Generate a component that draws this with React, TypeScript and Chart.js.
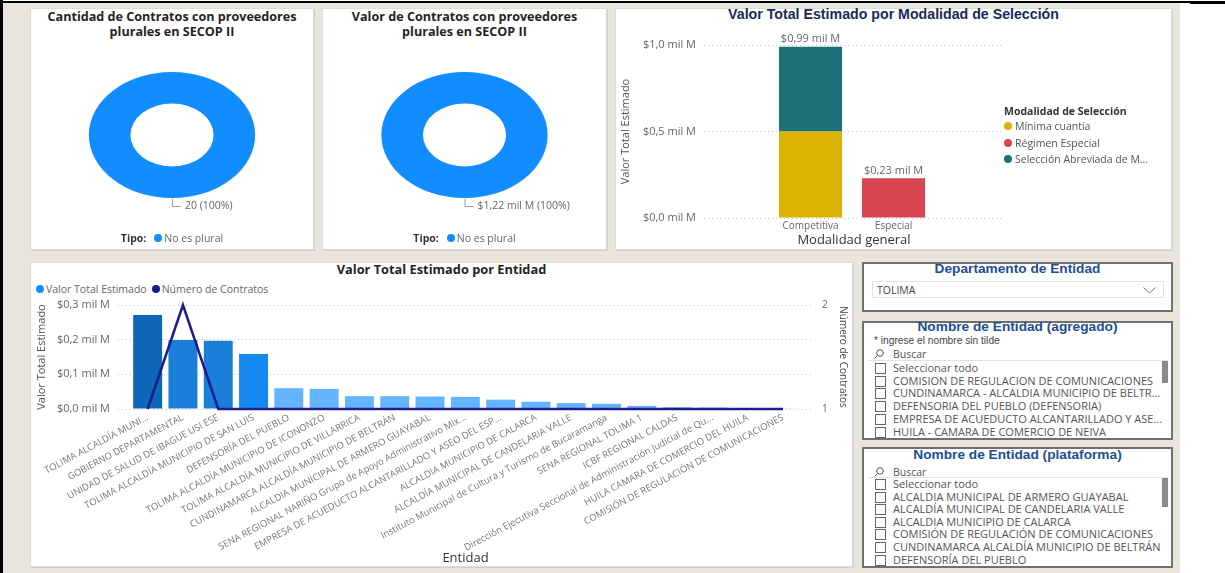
import React, { useEffect, useRef } from "react";
import { Chart, registerables } from "chart.js";

Chart.register(...registerables);

const FONT = "'Open Sans', 'Noto Sans', 'DejaVu Sans', sans-serif";
const ARIAL = "'Liberation Sans', Arial, sans-serif";
Chart.defaults.font.family = FONT;

// ---------------- DATA ----------------
const tipoLabels = ["No es plural"];
const cantidadContratos = [20];
const valorContratos = [1.22]; // mil M

const modalidadGeneral = ["Competitiva", "Especial"];
const modalidadSeleccion = ["Mínima cuantía", "Régimen Especial", "Selección Abreviada de Menor Cuantía"];
const minimaCuantia = [0.5, null];
const regimenEspecial = [null, 0.23];
const seleccionAbreviada = [0.49, null];
const modalidadTickStep = 0.5;
const modalidadMax = 1.0;

const entidades = [
  "TOLIMA ALCALDÍA MUNI...",
  "GOBIERNO DEPARTAMENTAL",
  "UNIDAD DE SALUD DE IBAGUE USI ESE",
  "TOLIMA ALCALDÍA MUNICIPIO DE SAN LUIS",
  "DEFENSORÍA DEL PUEBLO",
  "TOLIMA ALCALDÍA MUNICIPIO DE ICONONZO",
  "TOLIMA ALCALDÍA MUNICIPIO DE VILLARRICA",
  "CUNDINAMARCA ALCALDÍA MUNICIPIO DE BELTRÁN",
  "ALCALDIA MUNICIPAL DE ARMERO GUAYABAL",
  "SENA REGIONAL NARIÑO Grupo de Apoyo Administrativo Mix...",
  "EMPRESA DE ACUEDUCTO ALCANTARILLADO Y ASEO DEL ESP...",
  "ALCALDIA MUNICIPIO DE CALARCA",
  "ALCALDÍA MUNICIPAL DE CANDELARIA VALLE",
  "Instituto Municipal de Cultura y Turismo de Bucaramanga",
  "SENA REGIONAL TOLIMA 1",
  "ICBF REGIONAL CALDAS",
  "Dirección Ejecutiva Seccional de Administración Judicial de Qu...",
  "HUILA CAMARA DE COMERCIO DEL HUILA",
  "COMISIÓN DE REGULACIÓN DE COMUNICACIONES",
];
const valorEntidad = [0.271, 0.199, 0.197, 0.159, 0.06, 0.058, 0.037, 0.037, 0.036, 0.035, 0.027, 0.021, 0.017, 0.015, 0.009, 0.005, 0.004, 0.002, 0.001];
const numeroContratos = [1, 2, 1, 1, 1, 1, 1, 1, 1, 1, 1, 1, 1, 1, 1, 1, 1, 1, 1];
const entidadSeries = ["Valor Total Estimado", "Número de Contratos"];
const valorAxisMax = 0.3;
const valorAxisStep = 0.1;
const contratosAxis = [1, 2];

const departamentoSeleccionado = "TOLIMA";
const entidadesAgregado = [
  "Seleccionar todo",
  "COMISION DE REGULACION DE COMUNICACIONES",
  "CUNDINAMARCA - ALCALDIA MUNICIPIO DE BELTR...",
  "DEFENSORIA DEL PUEBLO (DEFENSORIA)",
  "EMPRESA DE ACUEDUCTO ALCANTARILLADO Y ASE...",
  "HUILA - CAMARA DE COMERCIO DE NEIVA",
];
const entidadesPlataforma = [
  "Seleccionar todo",
  "ALCALDIA MUNICIPAL DE ARMERO GUAYABAL",
  "ALCALDÍA MUNICIPAL DE CANDELARIA VALLE",
  "ALCALDIA MUNICIPIO DE CALARCA",
  "COMISIÓN DE REGULACIÓN DE COMUNICACIONES",
  "CUNDINAMARCA ALCALDÍA MUNICIPIO DE BELTRÁN",
  "DEFENSORÍA DEL PUEBLO",
];

// ---------------- STYLE ----------------
const BEIGE = "#e8e6dc";
const DONUT_BLUE = "#118dff";
const LINE_NAVY = "#1c1c8e";
const MOD_COLORS = ["#d9b300", "#d64550", "#1b7176"];
const TICK_GREY = "#666666";

function fmtMil(v: number, d: number) {
  return "$" + Number(v).toFixed(d).replace(".", ",") + " mil M";
}
function barColor(v: number) {
  if (v >= 0.25) return "#0e66b9";
  if (v >= 0.18) return "#1a7fd9";
  if (v >= 0.1) return "#1489ef";
  return "#64b4fb";
}
function truncate(s: string, n: number) {
  return s.length > n ? s.slice(0, n) + "..." : s;
}

function ChartCanvas({ left, top, width, height, config }: any) {
  const ref = useRef<HTMLCanvasElement | null>(null);
  useEffect(() => {
    const chart = new Chart(ref.current as HTMLCanvasElement, config());
    return () => chart.destroy();
  }, []);
  return (
    <canvas
      ref={ref}
      width={width}
      height={height}
      style={{ position: "absolute", left, top, width, height }}
    />
  );
}

function Panel({ left, top, width, height, children }: any) {
  return (
    <div
      style={{
        position: "absolute",
        left,
        top,
        width,
        height,
        background: "#fff",
        boxShadow: "inset 0 0 0 1px #dcdcdc, 1px 1px 0 #d0d0d0",
      }}
    >
      {children}
    </div>
  );
}

// ---------------- DONUT ----------------
const SX = 1.32;
function DonutPanel({ left, top, width, height, titleLines, values, fmt }: any) {
  const config = () => {
    const ellipse = {
      id: "ellipse",
      beforeDatasetsDraw(chart: any) {
        const a = chart.chartArea;
        const cx = (a.left + a.right) / 2;
        const cy = (a.top + a.bottom) / 2;
        const ctx = chart.ctx;
        ctx.save();
        ctx.translate(cx, cy);
        ctx.scale(SX, 1);
        ctx.translate(-cx, -cy);
      },
      afterDatasetsDraw(chart: any) {
        chart.ctx.restore();
      },
    };
    const label = {
      id: "donutLabel",
      afterDraw(chart: any) {
        const ctx = chart.ctx;
        const meta = chart.getDatasetMeta(0);
        const total = values.reduce((a: number, b: number) => a + b, 0);
        meta.data.forEach((arc: any, i: number) => {
          const p = arc.getProps(["x", "y", "startAngle", "endAngle", "outerRadius"], true);
          const mid = (p.startAngle + p.endAngle) / 2;
          const px = p.x + Math.cos(mid) * p.outerRadius * SX;
          const py = p.y + Math.sin(mid) * p.outerRadius;
          ctx.save();
          ctx.strokeStyle = "#9a9a9a";
          ctx.lineWidth = 1;
          ctx.beginPath();
          ctx.moveTo(px + 0.5, py + 1);
          ctx.lineTo(px + 0.5, py + 8.5);
          ctx.lineTo(px + 9, py + 8.5);
          ctx.stroke();
          ctx.fillStyle = "#666";
          ctx.font = "10.5px " + FONT;
          ctx.textBaseline = "middle";
          ctx.textAlign = "left";
          const pct = Math.round((values[i] / total) * 100);
          ctx.fillText(fmt(values[i]) + " (" + pct + "%)", px + 13, py + 8);
          ctx.restore();
        });
      },
    };
    return {
      type: "doughnut",
      data: {
        labels: tipoLabels,
        datasets: [{ data: values, backgroundColor: [DONUT_BLUE], borderWidth: 0 }],
      },
      options: {
        responsive: false,
        animation: false,
        cutout: "50%",
        layout: { padding: { top: 64, bottom: 52, left: 0, right: 0 } },
        plugins: { legend: { display: false }, tooltip: { enabled: false } },
      },
      plugins: [ellipse, label],
    };
  };
  return (
    <Panel left={left} top={top} width={width} height={height}>
      <div
        style={{
          position: "absolute",
          left: 0,
          top: 0.5,
          width: "100%",
          textAlign: "center",
          fontFamily: FONT,
          fontWeight: 700,
          fontSize: 12.6,
          lineHeight: "15px",
          color: "#252423",
        }}
      >
        {titleLines.map((t: string) => (
          <div key={t}>{t}</div>
        ))}
      </div>
      <ChartCanvas left={0} top={0} width={width} height={height} config={config} />
      <div
        style={{
          position: "absolute",
          left: 0,
          top: 223,
          width: "100%",
          height: 14,
          display: "flex",
          justifyContent: "center",
          alignItems: "center",
          fontFamily: FONT,
          fontSize: 10.5,
          lineHeight: "14px",
        }}
      >
        <span style={{ fontWeight: 700, color: "#333", marginRight: 8 }}>Tipo:</span>
        {tipoLabels.map((t) => (
          <span key={t} style={{ display: "flex", alignItems: "center", color: "#666" }}>
            <span
              style={{ width: 8, height: 8, borderRadius: 4, background: DONUT_BLUE, marginRight: 2, display: "inline-block" }}
            />
            {t}
          </span>
        ))}
      </div>
    </Panel>
  );
}

// ---------------- STACKED BAR ----------------
function ModalidadPanel() {
  const W = 557, H = 242;
  const series = [minimaCuantia, regimenEspecial, seleccionAbreviada];
  const config = () => {
    const totals = {
      id: "totals",
      afterDatasetsDraw(chart: any) {
        const ctx = chart.ctx;
        ctx.save();
        ctx.fillStyle = "#666";
        ctx.font = "11px " + FONT;
        ctx.textAlign = "center";
        ctx.textBaseline = "bottom";
        modalidadGeneral.forEach((_, i) => {
          const t = series.reduce((s, arr) => s + (arr[i] || 0), 0);
          const x = chart.scales.x.getPixelForValue(i);
          const y = chart.scales.y.getPixelForValue(t);
          ctx.fillText(fmtMil(t, 2), x, y - 2);
        });
        ctx.restore();
      },
    };
    return {
      type: "bar",
      data: {
        datasets: modalidadSeleccion.map((name, k) => ({
          label: name,
          data: series[k].map((v, i) => ({ x: i, y: v })),
          backgroundColor: MOD_COLORS[k],
          borderWidth: 0,
          barPercentage: 0.76,
          categoryPercentage: 1,
        })),
      },
      options: {
        responsive: false,
        animation: false,
        layout: { padding: { top: 37, right: 168, left: 0, bottom: 0 } },
        plugins: { legend: { display: false }, tooltip: { enabled: false } },
        scales: {
          x: {
            type: "linear",
            stacked: true,
            min: -1.283,
            max: 2.33,
            offset: false,
            bounds: "data",
            grid: { display: false, drawTicks: false },
            border: { display: false },
            afterBuildTicks: (s: any) => {
              s.ticks = modalidadGeneral.map((_, i) => ({ value: i }));
            },
            afterFit: (s: any) => {
              s.height = 32;
              s.paddingLeft = 0;
              s.paddingRight = 0;
            },
            ticks: {
              autoSkip: false,
              maxRotation: 0,
              callback: (v: any) => modalidadGeneral[v] ?? "",
              color: TICK_GREY,
              font: { size: 10 },
              padding: 2,
            },
            title: { display: true, text: "Modalidad general", color: "#333", font: { size: 13 }, padding: { top: 0, bottom: 1.5 } },
          },
          y: {
            stacked: true,
            min: 0,
            max: modalidadMax,
            ticks: { stepSize: modalidadTickStep, callback: (v: any) => fmtMil(v, 1), color: TICK_GREY, font: { size: 11 }, padding: 8 },
            grid: { color: "#c4c4c4", drawTicks: false, lineWidth: 1 },
            border: { display: false, dash: [1, 3] },
            afterFit: (s: any) => {
              s.width = 89;
            },
            title: { display: true, text: "Valor Total Estimado", color: "#555", font: { size: 11 }, padding: { top: 4, bottom: 0 } },
          },
        },
      },
      plugins: [totals],
    };
  };
  return (
    <Panel left={615} top={8} width={W} height={H}>
      <div
        style={{
          position: "absolute",
          left: 0,
          top: -2,
          width: "100%",
          textAlign: "center",
          fontFamily: ARIAL,
          fontWeight: 700,
          fontSize: 14.2,
          lineHeight: "16px",
          color: "#1b2a5c",
        }}
      >
        Valor Total Estimado por Modalidad de Selección
      </div>
      <ChartCanvas left={0} top={0} width={W} height={H} config={config} />
      <div style={{ position: "absolute", left: 389, top: 96, fontFamily: FONT, fontWeight: 700, fontSize: 10.5, lineHeight: "14px", color: "#333", whiteSpace: "nowrap" }}>
        Modalidad de Selección
      </div>
      {modalidadSeleccion.map((name, k) => (
        <div
          key={name}
          style={{
            position: "absolute",
            left: 389,
            top: 111 + k * 16.5,
            height: 14,
            display: "flex",
            alignItems: "center",
            fontFamily: FONT,
            fontSize: 10.5,
            lineHeight: "14px",
            color: "#555",
            whiteSpace: "nowrap",
          }}
        >
          <span style={{ width: 8, height: 8, borderRadius: 4, background: MOD_COLORS[k], marginRight: 3, display: "inline-block" }} />
          {truncate(name, 24)}
        </div>
      ))}
    </Panel>
  );
}

// ---------------- COMBO ----------------
function EntidadPanel() {
  const W = 823, H = 305;
  const config = () => ({
    type: "bar",
    data: {
      datasets: [
        {
          type: "line",
          label: entidadSeries[1],
          data: numeroContratos.map((v, i) => ({ x: i, y: v })),
          yAxisID: "y1",
          borderColor: LINE_NAVY,
          borderWidth: 2.5,
          pointRadius: 0,
          tension: 0,
          order: 0,
          clip: 4,
        },
        {
          type: "bar",
          label: entidadSeries[0],
          data: valorEntidad.map((v, i) => ({ x: i, y: v })),
          yAxisID: "y",
          backgroundColor: valorEntidad.map(barColor),
          borderWidth: 0,
          barPercentage: 0.82,
          categoryPercentage: 1,
          order: 1,
        },
      ],
    },
    options: {
      responsive: false,
      animation: false,
      layout: { padding: { top: 43, left: 0, right: 0, bottom: 0 } },
      plugins: { legend: { display: false }, tooltip: { enabled: false } },
      scales: {
        x: {
          type: "linear",
          min: -0.84,
          max: 18.85,
          offset: false,
          bounds: "data",
          grid: { display: false, drawTicks: false },
          border: { display: false },
          afterBuildTicks: (s: any) => {
            s.ticks = entidades.map((_, i) => ({ value: i }));
          },
          afterFit: (s: any) => {
            s.height = 158;
            s.paddingLeft = 0;
            s.paddingRight = 0;
          },
          ticks: {
            autoSkip: false,
            minRotation: 28,
            maxRotation: 28,
            callback: (v: any) => entidades[v] ?? "",
            color: "#777",
            font: { size: 9.5 },
            padding: 3,
          },
          title: { display: true, text: "Entidad", color: "#333", font: { size: 13 }, padding: { top: 0, bottom: 1 } },
        },
        y: {
          position: "left",
          min: 0,
          max: valorAxisMax,
          ticks: { stepSize: valorAxisStep, callback: (v: any) => fmtMil(v, 1), color: TICK_GREY, font: { size: 11 }, padding: 8 },
          grid: { color: "#c4c4c4", drawTicks: false },
          border: { display: false, dash: [1, 3] },
          afterFit: (s: any) => {
            s.width = 88;
          },
          title: { display: true, text: "Valor Total Estimado", color: "#555", font: { size: 11 }, padding: { top: 5, bottom: 0 } },
        },
        y1: {
          position: "right",
          min: contratosAxis[0],
          max: contratosAxis[contratosAxis.length - 1],
          ticks: { stepSize: 1, color: TICK_GREY, font: { size: 10 }, padding: 9 },
          grid: { drawOnChartArea: false, drawTicks: false },
          border: { display: false },
          afterFit: (s: any) => {
            s.width = 40;
          },
          title: { display: true, text: "Número de Contratos", color: "#444", font: { size: 10 }, padding: { top: 4, bottom: 0 } },
        },
      },
    },
  });
  const legendColors = [DONUT_BLUE, LINE_NAVY];
  return (
    <Panel left={30} top={262} width={W} height={H}>
      <div
        style={{
          position: "absolute",
          left: 0,
          top: -0.5,
          width: "100%",
          textAlign: "center",
          fontFamily: FONT,
          fontWeight: 700,
          fontSize: 12.8,
          lineHeight: "15px",
          color: "#252423",
        }}
      >
        Valor Total Estimado por Entidad
      </div>
      <div
        style={{
          position: "absolute",
          left: 6,
          top: 20,
          height: 14,
          display: "flex",
          alignItems: "center",
          fontFamily: FONT,
          fontSize: 10.5,
          color: "#666",
          whiteSpace: "nowrap",
        }}
      >
        {entidadSeries.map((s, k) => (
          <span key={s} style={{ display: "flex", alignItems: "center", marginRight: 5 }}>
            <span style={{ width: 8, height: 8, borderRadius: 4, background: legendColors[k], marginRight: 2, display: "inline-block" }} />
            {s}
          </span>
        ))}
      </div>
      <ChartCanvas left={0} top={0} width={W} height={H} config={config} />
    </Panel>
  );
}

// ---------------- SLICERS ----------------
const SLICER_TITLE: any = {
  position: "absolute",
  left: 0,
  width: "100%",
  textAlign: "center",
  fontFamily: ARIAL,
  fontWeight: 700,
  fontSize: 13.7,
  lineHeight: "16px",
  color: "#1f4e91",
};

function SlicerBox({ left, top, width, height, children }: any) {
  return (
    <div
      style={{
        position: "absolute",
        left,
        top,
        width,
        height,
        background: "#fff",
        boxShadow: "inset 0 0 0 2px #707070",
      }}
    >
      {children}
    </div>
  );
}

function SearchIcon({ left, top }: any) {
  return (
    <svg style={{ position: "absolute", left, top }} width={10} height={10} viewBox="0 0 10 10">
      <circle cx={6} cy={4} r={3.3} fill="none" stroke="#555" strokeWidth={1} />
      <line x1={3.6} y1={6.4} x2={0.6} y2={9.4} stroke="#555" strokeWidth={1} />
    </svg>
  );
}

function ItemList({ items, y0, step }: any) {
  return items.map((t: string, i: number) => (
    <div key={t}>
      <div
        style={{
          position: "absolute",
          left: 13,
          top: y0 + i * step - 5,
          width: 9,
          height: 9,
          border: "1px solid #666",
          background: "#fff",
        }}
      />
      <div
        style={{
          position: "absolute",
          left: 31,
          top: y0 + i * step - 7,
          height: 14,
          lineHeight: "14px",
          fontFamily: FONT,
          fontSize: 11,
          color: "#555",
          whiteSpace: "nowrap",
        }}
      >
        {t}
      </div>
    </div>
  ));
}

function Slicers() {
  return (
    <>
      <SlicerBox left={862} top={262} width={311} height={50}>
        <div style={{ ...SLICER_TITLE, top: -1.5 }}>Departamento de Entidad</div>
        <div
          style={{
            position: "absolute",
            left: 10,
            top: 19,
            width: 292,
            height: 17,
            boxShadow: "inset 0 0 0 1px #e4e4e4",
          }}
        >
          <div style={{ position: "absolute", left: 5, top: 2, lineHeight: "14px", fontFamily: FONT, fontSize: 10.5, color: "#444" }}>
            {departamentoSeleccionado}
          </div>
          <svg style={{ position: "absolute", left: 271, top: 6 }} width={13} height={7} viewBox="0 0 13 7">
            <polyline points="0.5,0.5 6.5,6 12.5,0.5" fill="none" stroke="#777" strokeWidth={1} />
          </svg>
        </div>
      </SlicerBox>

      <SlicerBox left={862} top={321} width={311} height={119}>
        <div style={{ ...SLICER_TITLE, top: -2 }}>Nombre de Entidad (agregado)</div>
        <div style={{ position: "absolute", left: 12, top: 14, lineHeight: "12px", fontFamily: ARIAL, fontSize: 10.2, color: "#444" }}>
          * ingrese el nombre sin tilde
        </div>
        <SearchIcon left={12} top={28} />
        <div style={{ position: "absolute", left: 31, top: 26, lineHeight: "14px", fontFamily: FONT, fontSize: 10.5, color: "#555" }}>Buscar</div>
        <div style={{ position: "absolute", left: 6, top: 39, width: 300, height: 1, background: "#e2e2e2" }} />
        <ItemList items={entidadesAgregado} y0={47} step={12.7} />
        <div style={{ position: "absolute", left: 300, top: 40, width: 6, height: 22, background: "#8a8a8a" }} />
      </SlicerBox>

      <SlicerBox left={862} top={447} width={311} height={121}>
        <div style={{ ...SLICER_TITLE, top: 0 }}>Nombre de Entidad (plataforma)</div>
        <SearchIcon left={12} top={20} />
        <div style={{ position: "absolute", left: 31, top: 18, lineHeight: "14px", fontFamily: FONT, fontSize: 10.5, color: "#555" }}>Buscar</div>
        <div style={{ position: "absolute", left: 6, top: 30, width: 300, height: 1, background: "#e2e2e2" }} />
        <ItemList items={entidadesPlataforma} y0={37} step={12.6} />
        <div style={{ position: "absolute", left: 300, top: 31, width: 6, height: 29, background: "#8a8a8a" }} />
      </SlicerBox>
    </>
  );
}

export default function App() {
  return (
    <div
      style={{
        position: "fixed",
        left: 0,
        top: 0,
        width: 1225,
        height: 573,
        background: "#fff",
        overflow: "hidden",
        fontFamily: FONT,
      }}
    >
      <div style={{ position: "absolute", left: 3, top: 3, width: 1177, height: 570, background: BEIGE }} />
      <div style={{ position: "absolute", left: 0, top: 0, width: 3, height: 573, background: "#000" }} />
      <div style={{ position: "absolute", left: 0, top: 1, width: 1190, height: 2, background: "#000" }} />
      <div style={{ position: "absolute", left: 1190, top: 1, width: 35, height: 3, background: "#000" }} />

      <DonutPanel
        left={30}
        top={8}
        width={284}
        height={242}
        titleLines={["Cantidad de Contratos con proveedores", "plurales en SECOP II"]}
        values={cantidadContratos}
        fmt={(v: number) => String(v)}
      />
      <DonutPanel
        left={322}
        top={8}
        width={285}
        height={242}
        titleLines={["Valor de Contratos con proveedores", "plurales en SECOP II"]}
        values={valorContratos}
        fmt={(v: number) => fmtMil(v, 2)}
      />
      <ModalidadPanel />
      <EntidadPanel />
      <Slicers />
    </div>
  );
}
